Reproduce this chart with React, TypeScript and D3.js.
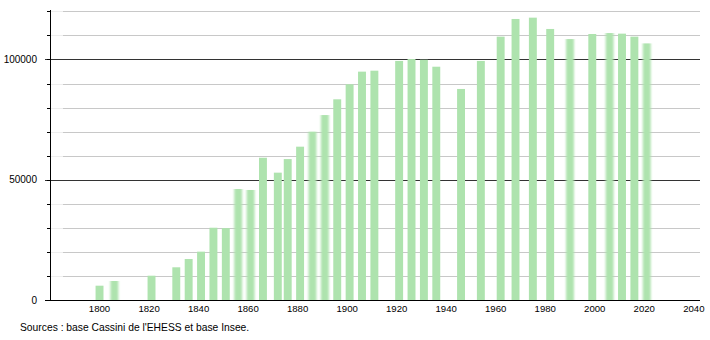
import React from 'react';
import * as d3 from 'd3';

// Census years and population values
const years = [1800, 1806, 1821, 1831, 1836, 1841, 1846, 1851, 1856, 1861, 1866, 1872, 1876, 1881, 1886, 1891, 1896, 1901, 1906, 1911, 1921, 1926, 1931, 1936, 1946, 1954, 1962, 1968, 1975, 1982, 1990, 1999, 2006, 2011, 2016, 2021];
const population = [5950, 7900, 10100, 13600, 17050, 20100, 30050, 29900, 46150, 45750, 59150, 52950, 58600, 63750, 70000, 76900, 83450, 89700, 94950, 95350, 99400, 100200, 99900, 97000, 87750, 99400, 109500, 116850, 117400, 112700, 108500, 110600, 111000, 110750, 109500, 106700];

const xTickLabels = [1800, 1820, 1840, 1860, 1880, 1900, 1920, 1940, 1960, 1980, 2000, 2020, 2040];
const yTickLabels = [0, 50000, 100000];
const yGridValues = [10000, 20000, 30000, 40000, 50000, 60000, 70000, 80000, 90000, 100000, 110000, 120000];
const sourceText = "Sources : base Cassini de l'EHESS et base Insee.";

// rendering style: bars that appear soft-edged in the reference
const softYears = [1806, 1856, 1861, 1886, 1891, 1990, 2006, 2021];

const W = 710;
const H = 340;
const FONT = "'Liberation Sans', Arial, Helvetica, sans-serif";
const BAR = '#aee3ae';

export default function App() {
  const x = d3.scaleLinear().domain([1780, 2042.5]).range([50, 700]);
  const y = d3.scaleLinear().domain([0, 120000]).range([300, 11.4]);
  const halfW = (x(1801.6) - x(1798.4)) / 2;
  const data = years.map((yr, i) => ({ yr, v: population[i] }));

  return (
    <svg width={W} height={H} style={{ position: 'absolute', left: 0, top: 0, background: '#fff' }} xmlns="http://www.w3.org/2000/svg">
      <defs>
        <filter id="soft" x="-50%" y="-5%" width="200%" height="110%">
          <feGaussianBlur stdDeviation="1.3 0" />
        </filter>
      </defs>
      <rect x={0} y={0} width={W} height={H} fill="#fff" />
      {/* grid */}
      {yGridValues.map((v) => {
        const major = v % 50000 === 0;
        const yy = Math.round(y(v)) + 0.5;
        return (
          <g key={v}>
            {!major && <line x1={51} x2={63} y1={yy} y2={yy} stroke="#eeeeee" strokeWidth={1} />}
            <line x1={major ? 45 : 63} x2={700} y1={yy} y2={yy} stroke={major ? '#333' : '#c8c8c8'} strokeWidth={1} />
            <line x1={47} x2={50} y1={yy} y2={yy} stroke="#000" strokeWidth={1} />
          </g>
        );
      })}
      {/* bars */}
      {data.map((d) => (
        <rect
          key={d.yr}
          x={x(d.yr) - halfW}
          y={y(d.v)}
          width={halfW * 2}
          height={y(0) - y(d.v)}
          fill={BAR}
          filter={softYears.includes(d.yr) ? 'url(#soft)' : undefined}
        />
      ))}
      {/* axes */}
      <line x1={50.5} x2={50.5} y1={10} y2={300} stroke="#000" strokeWidth={1} />
      <line x1={45} x2={700} y1={300.5} y2={300.5} stroke="#000" strokeWidth={1} />
      {yTickLabels.map((v) => (
        <text key={v} x={37} y={y(v)} dy="0.35em" textAnchor="end" fontFamily={FONT} fontSize={10} fill="#000">
          {v}
        </text>
      ))}
      {xTickLabels.map((t) => (
        <text key={t} x={x(t)} y={312} textAnchor="middle" fontFamily={FONT} fontSize={9.6} fill="#000">
          {t}
        </text>
      ))}
      <text x={20} y={331} fontFamily={FONT} fontSize={10.3} fill="#000">
        {sourceText}
      </text>
    </svg>
  );
}
